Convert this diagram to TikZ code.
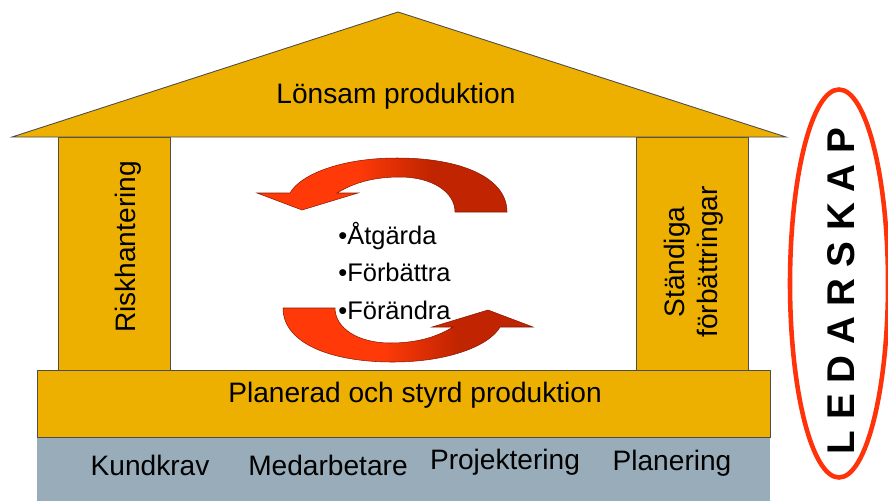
\documentclass[tikz,border=0pt]{standalone}
\usepackage{fontspec}
\setmainfont{Liberation Sans}
\definecolor{roofgold}{RGB}{238,176,0}
\definecolor{basegrey}{RGB}{152,173,185}
\definecolor{arrowlight}{RGB}{255,58,8}
\definecolor{arrowdark}{RGB}{192,36,0}
\definecolor{ringred}{RGB}{255,50,10}
\pgfdeclarehorizontalshading{turnshade}{100bp}{color(0bp)=(arrowlight);color(45bp)=(arrowlight);color(60bp)=(arrowdark);color(100bp)=(arrowdark)}
\tikzset{
  part/.style={fill=roofgold,draw=black!70,line width=0.5pt},
  lbl/.style={font=\fontsize{16}{19}\selectfont,inner sep=0pt},
  bullet/.style={font=\fontsize{14.5}{17}\selectfont,inner sep=0pt,anchor=west},
  turn/.style={shading=turnshade,draw=arrowdark!70!black,line width=0.3pt}
}
\begin{document}
\begin{tikzpicture}[x=0.02cm,y=-0.02cm]
\useasboundingbox (0,0) rectangle (888,501);
\fill[basegrey](37,437)rectangle(770,501);
\draw[part](37,370)rectangle(770,437);
\draw[part](58,137)rectangle(170,370);
\draw[part](636,137)rectangle(748,370);
\draw[part](12,137)--(398,12)--(786,137)--cycle;
\foreach \r in {0,180}{
\path[turn,rotate around={\r:(395,260)}]
(507,212).. controls (507,178) and (462,158) ..(397,158)
.. controls (340,158) and (300,175) ..(290,193)--(257,193)--(302,210)--(358,193)--(337,193)
.. controls (355,182) and (375,177) ..(400,177)
.. controls (432,177) and (455,192) ..(455,212)--cycle;
}
\node[lbl](roof) at (396,96){Lönsam produktion};
\node[lbl](plan) at (415,395){Planerad och styrd produktion};
\node[lbl,rotate=90](risk) at (128,247){Riskhantering};
\node[lbl,rotate=90,align=center](impr) at (694,262){Ständiga\\förbättringar};
\node[lbl](kund) at (150,465){Kundkrav};
\node[lbl](medarb) at (328,465){Medarbetare};
\node[lbl](proj) at (505,462){Projektering};
\node[lbl](planer) at (672,463){Planering};
\node[bullet](act) at (338,236){•Åtgärda};
\node[bullet](better) at (338,272){•Förbättra};
\node[bullet](change) at (338,310){•Förändra};
\draw[ringred,line width=2.6pt](839,283.5)ellipse[x radius=49,y radius=194];
\node[font=\fontsize{22}{25}\selectfont\bfseries,rotate=90](lead) at (841,291){L E D A R S K A P};
\end{tikzpicture}
\end{document}
